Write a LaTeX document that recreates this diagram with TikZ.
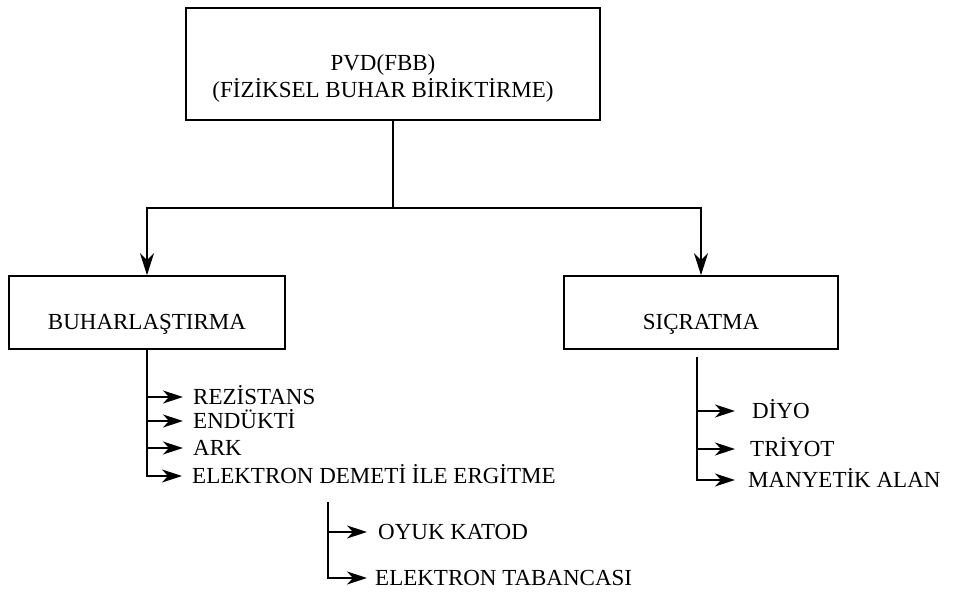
\documentclass[tikz,border=0pt]{standalone}
\usepackage{fontspec}
\setmainfont{Liberation Serif}
\usetikzlibrary{arrows.meta}
\begin{document}
\begin{tikzpicture}[x=1pt,y=-1pt,
  font=\fontsize{23}{27}\selectfont,
  box/.style={draw, line width=1.6pt, inner sep=0pt},
  ln/.style={line width=1.5pt},
  arr/.style={line width=1.5pt, -{Stealth[length=20pt,width=13pt,inset=6pt]}},
  darr/.style={line width=1.5pt, -{Stealth[length=22pt,width=14pt,inset=7pt]}},
  item/.style={anchor=west, inner sep=0pt, text height=15pt, text depth=0pt}]
\useasboundingbox (0,0) rectangle (958,601);
% boxes
\node[box, minimum width=414pt, minimum height=112pt, text height=40pt, text depth=27pt] (top) at (393,64)
  {\begin{tabular}[t]{@{}c@{\hspace{20pt}}}PVD(FBB)\\(FİZİKSEL BUHAR BİRİKTİRME)\end{tabular}};
\node[box, minimum width=276pt, minimum height=73pt, text height=35pt, text depth=0pt] (buh) at (147,312.5) {BUHARLAŞTIRMA};
\node[box, minimum width=274pt, minimum height=73pt, text height=35pt, text depth=0pt] (sic) at (701,312.5) {SIÇRATMA};
% main connectors
\coordinate (j) at (393,208);
\draw[ln] (top.south) -- (j);
\draw[darr] (j) -| (buh.north);
\draw[darr] (j) -| (sic.north);
% left items
\node[item] (r1) at (193,397) {REZİSTANS};
\node[item] (r2) at (193,421) {ENDÜKTİ};
\node[item] (r3) at (193,448) {ARK};
\node[item] (r4) at (192,476) {ELEKTRON DEMETİ İLE ERGİTME};
\foreach \n in {r1,r2,r3,r4} \draw[arr, shorten >=10pt] (buh.south) |- (\n.west);
% second level
\coordinate (e0) at (328,502);
\node[item] (o1) at (378,532) {OYUK KATOD};
\node[item] (o2) at (375,578) {ELEKTRON TABANCASI};
\draw[arr, shorten >=11pt] (e0) |- (o1.west);
\draw[arr, shorten >=8pt] (e0) |- (o2.west);
% right items
\coordinate (s0) at (697,357);
\node[item] (d1) at (752,411) {DİYO};
\node[item] (d2) at (750,449) {TRİYOT};
\node[item] (d3) at (748,480) {MANYETİK ALAN};
\draw[arr, shorten >=17pt] (s0) |- (d1.west);
\draw[arr, shorten >=15pt] (s0) |- (d2.west);
\draw[arr, shorten >=13pt] (s0) |- (d3.west);
\end{tikzpicture}
\end{document}
